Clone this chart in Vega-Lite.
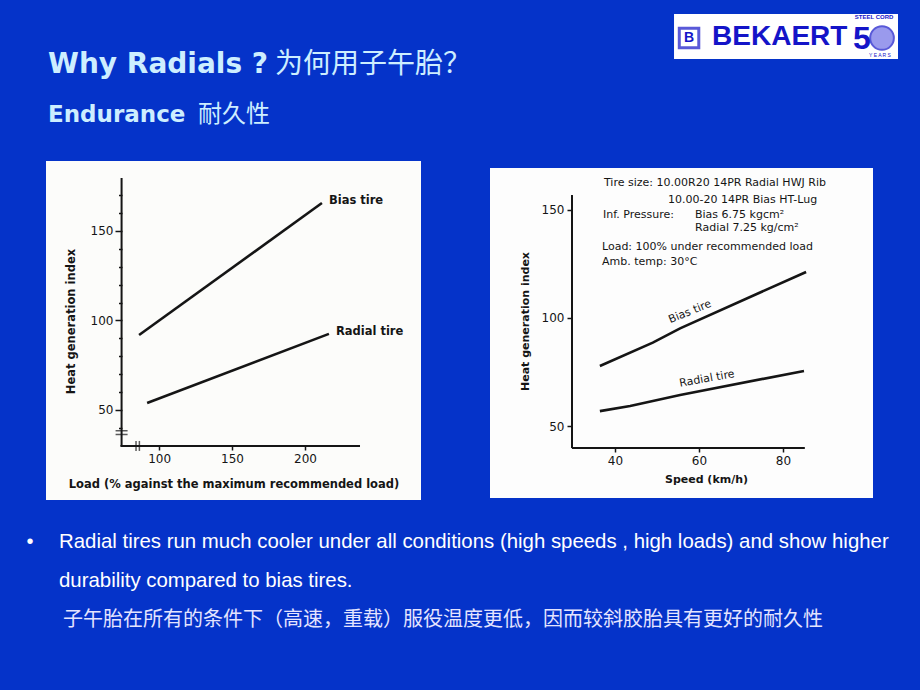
{
  "$schema": "https://vega.github.io/schema/vega-lite/v6.json",
  "background": "#0533c9",
  "padding": {"left": 20, "top": 14, "right": 0, "bottom": 0},
  "config": {"view": {"stroke": null}},
  "spacing": 10,
  "vconcat": [
    {
      "width": 878, "height": 137,
      "data": {"values": [{}]},
      "layer": [
        {"mark": {"type": "rect", "color": "white"},
         "encoding": {"x": {"datum": 74.49, "type": "quantitative", "scale": {"domain": [0, 100], "nice": false, "zero": false}, "axis": null}, "x2": {"datum": 100},
                      "y": {"datum": 67.15, "type": "quantitative", "scale": {"domain": [0, 100], "nice": false, "zero": false}, "axis": null}, "y2": {"datum": 100}}},
        {"mark": {"type": "text", "align": "left", "baseline": "alphabetic", "font": "DejaVu Sans", "fontWeight": "bold", "fontSize": 28, "color": "#cdeeff"},
         "encoding": {"x": {"datum": 3.19, "type": "quantitative"}, "y": {"datum": 56.93, "type": "quantitative"}, "text": {"value": "Why Radials ?"}}},
        {"mark": {"type": "text", "align": "left", "baseline": "alphabetic", "font": "Noto Sans CJK SC", "fontSize": 28, "color": "#cdeeff"},
         "encoding": {"x": {"datum": 29.04, "type": "quantitative"}, "y": {"datum": 56.93, "type": "quantitative"}, "text": {"value": "为何用子午胎？"}}},
        {"mark": {"type": "text", "align": "left", "baseline": "alphabetic", "font": "DejaVu Sans", "fontWeight": "bold", "fontSize": 23, "color": "#cdeeff"},
         "encoding": {"x": {"datum": 3.19, "type": "quantitative"}, "y": {"datum": 21.17, "type": "quantitative"}, "text": {"value": "Endurance"}}},
        {"mark": {"type": "text", "align": "left", "baseline": "alphabetic", "font": "Noto Sans CJK SC", "fontSize": 24, "color": "#cdeeff"},
         "encoding": {"x": {"datum": 20.27, "type": "quantitative"}, "y": {"datum": 21.17, "type": "quantitative"}, "text": {"value": "耐久性"}}},
        {"mark": {"type": "point", "shape": "square", "size": 380, "filled": false, "stroke": "#1414c8", "strokeWidth": 3},
         "encoding": {"x": {"datum": 76.2, "type": "quantitative"}, "y": {"datum": 82.5, "type": "quantitative"}}},
        {"mark": {"type": "text", "align": "center", "baseline": "middle", "font": "Liberation Sans", "fontWeight": "bold", "fontSize": 14, "color": "#1414c8"},
         "encoding": {"x": {"datum": 76.2, "type": "quantitative"}, "y": {"datum": 82.5, "type": "quantitative"}, "text": {"value": "B"}}},
        {"mark": {"type": "text", "align": "left", "baseline": "middle", "font": "Liberation Sans", "fontWeight": "bold", "fontSize": 28, "color": "#1414c8"},
         "encoding": {"x": {"datum": 78.82, "type": "quantitative"}, "y": {"datum": 83.2, "type": "quantitative"}, "text": {"value": "BEKAERT"}}},
        {"mark": {"type": "text", "align": "left", "baseline": "middle", "font": "Liberation Sans", "fontWeight": "bold", "fontSize": 32, "color": "#1414c8"},
         "encoding": {"x": {"datum": 94.87, "type": "quantitative"}, "y": {"datum": 81.5, "type": "quantitative"}, "text": {"value": "5"}}},
        {"mark": {"type": "point", "shape": "circle", "size": 560, "filled": true, "fill": "#7070e6", "stroke": "#1414c8", "strokeWidth": 2},
         "encoding": {"x": {"datum": 98.18, "type": "quantitative"}, "y": {"datum": 82.5, "type": "quantitative"}}},
        {"mark": {"type": "text", "align": "center", "baseline": "middle", "font": "Liberation Sans", "fontWeight": "bold", "fontSize": 6, "color": "#1414c8"},
         "encoding": {"x": {"datum": 97.27, "type": "quantitative"}, "y": {"datum": 97.5, "type": "quantitative"}, "text": {"value": "STEEL CORD"}}},
        {"mark": {"type": "text", "align": "center", "baseline": "middle", "font": "Liberation Sans", "fontSize": 5, "color": "#1414c8"},
         "encoding": {"x": {"datum": 97.95, "type": "quantitative"}, "y": {"datum": 70.1, "type": "quantitative"}, "text": {"value": "Y E A R S"}}}
      ]
    },
    {
      "spacing": 0,
      "hconcat": [
        {"width": 26, "height": 339, "data": {"values": [{}]}, "mark": {"type": "rect", "opacity": 0}},
        {
          "width": 375, "height": 339,
          "view": {"fill": "#fcfcfa", "stroke": null},
          "resolve": {"axis": {"y": "independent"}},
          "layer": [
            {
              "data": {"values": [
                {"tire": "Bias tire", "load": 86.3, "heat": 91.9},
                {"tire": "Bias tire", "load": 211.6, "heat": 165.6},
                {"tire": "Radial tire", "load": 91.8, "heat": 53.9},
                {"tire": "Radial tire", "load": 216.4, "heat": 92.5}
              ]},
              "layer": [
                {
                  "mark": {"type": "line", "color": "#151515", "strokeWidth": 2.6},
                  "encoding": {
                    "x": {"field": "load", "type": "quantitative", "scale": {"domain": [22.5, 279.5], "nice": false, "zero": false},
                          "axis": {"values": [100, 150, 200], "offset": -54, "domain": false, "grid": false, "tickSize": 4, "tickWidth": 1.5, "tickColor": "#151515",
                                   "labelFont": "DejaVu Sans", "labelFontSize": 12, "labelColor": "#151515", "labelPadding": 3,
                                   "title": "Load (% against the maximum recommended load)", "titleFont": "DejaVu Sans", "titleFontSize": 11.5, "titleFontWeight": "bold", "titleColor": "#151515", "titlePadding": 14}},
                    "y": {"field": "heat", "type": "quantitative", "scale": {"domain": [-0.3, 189.1], "nice": false, "zero": false},
                          "axis": {"orient": "left", "values": [50, 100, 150], "offset": -76, "domain": false, "grid": false,
                                   "tickSize": 7, "tickWidth": 1.5, "tickColor": "#151515",
                                   "labelFont": "DejaVu Sans", "labelFontSize": 12, "labelColor": "#151515", "labelPadding": 2,
                                   "title": "Heat generation index", "titleFont": "DejaVu Sans", "titleFontSize": 11.5, "titleFontWeight": "bold", "titleColor": "#151515",
                                   "titleAngle": 270, "titleAlign": "center", "titleBaseline": "middle", "titleX": -51, "titleY": 160}},
                    "detail": {"field": "tire", "type": "nominal"}
                  }
                },
                {
                  "transform": [{"filter": "datum.load > 200"}],
                  "mark": {"type": "text", "align": "left", "baseline": "middle", "dx": 7, "dy": -2, "font": "DejaVu Sans", "fontSize": 11.5, "fontWeight": "bold", "color": "#151515"},
                  "encoding": {"x": {"field": "load", "type": "quantitative"}, "y": {"field": "heat", "type": "quantitative"}, "text": {"field": "tire"}}
                }
              ]
            },
            {"data": {"values": [{}]}, "mark": {"type": "rule", "color": "#151515", "strokeWidth": 2},
             "encoding": {"x": {"datum": 74.3, "type": "quantitative"},
                          "y": {"datum": 29.9, "type": "quantitative",
                                "axis": {"orient": "left", "values": [40, 60, 70, 80, 90, 110, 120, 130, 140, 160, 170], "labels": false, "offset": -76, "domain": false, "grid": false,
                                         "tickSize": 3.5, "tickWidth": 1.5, "tickColor": "#151515", "title": null}},
                          "y2": {"datum": 179.6}}},
            {"data": {"values": [{}]}, "mark": {"type": "rule", "color": "#151515", "strokeWidth": 2},
             "encoding": {"x": {"datum": 73.5, "type": "quantitative"}, "x2": {"datum": 237.7}, "y": {"datum": 29.9, "type": "quantitative", "axis": null}}},
            {"data": {"values": [{}]}, "mark": {"type": "tick", "orient": "horizontal", "size": 12, "thickness": 1.5, "color": "#151515"},
             "encoding": {"x": {"datum": 74.3, "type": "quantitative"}, "y": {"datum": 38.4, "type": "quantitative", "axis": null}}},
            {"data": {"values": [{}]}, "mark": {"type": "tick", "orient": "horizontal", "size": 12, "thickness": 1.5, "color": "#151515"},
             "encoding": {"x": {"datum": 74.3, "type": "quantitative"}, "y": {"datum": 36.3, "type": "quantitative", "axis": null}}},
            {"data": {"values": [{}]}, "mark": {"type": "tick", "orient": "vertical", "size": 10, "thickness": 1.5, "color": "#151515"},
             "encoding": {"x": {"datum": 84.2, "type": "quantitative"}, "y": {"datum": 29.9, "type": "quantitative", "axis": null}}},
            {"data": {"values": [{}]}, "mark": {"type": "tick", "orient": "vertical", "size": 10, "thickness": 1.5, "color": "#151515"},
             "encoding": {"x": {"datum": 86.5, "type": "quantitative"}, "y": {"datum": 29.9, "type": "quantitative", "axis": null}}}
          ]
        },
        {"width": 69, "height": 339, "data": {"values": [{}]}, "mark": {"type": "rect", "opacity": 0}},
        {
          "spacing": 6,
          "vconcat": [
            {"width": 383, "height": 1, "data": {"values": [{}]}, "mark": {"type": "rect", "opacity": 0}},
            {
              "width": 383, "height": 330,
              "view": {"fill": "#fdfdfd", "stroke": null},
              "layer": [
                {
                  "data": {"values": [
                    {"tire": "Bias tire", "speed": 36.4, "heat": 77.8},
                    {"tire": "Bias tire", "speed": 49, "heat": 88.6},
                    {"tire": "Bias tire", "speed": 55.5, "heat": 95.2},
                    {"tire": "Bias tire", "speed": 85.5, "heat": 121.3},
                    {"tire": "Radial tire", "speed": 36.4, "heat": 56.9},
                    {"tire": "Radial tire", "speed": 43.6, "heat": 59.3},
                    {"tire": "Radial tire", "speed": 55.5, "heat": 64.4},
                    {"tire": "Radial tire", "speed": 85, "heat": 75.5}
                  ]},
                  "mark": {"type": "line", "color": "#151515", "strokeWidth": 2.6},
                  "encoding": {
                    "x": {"field": "speed", "type": "quantitative", "scale": {"domain": [10.24, 101.43], "nice": false, "zero": false},
                          "axis": {"values": [40, 60, 80], "offset": -50, "domain": false, "grid": false, "tickSize": 4, "tickWidth": 1.5, "tickColor": "#151515",
                                   "labelFont": "DejaVu Sans", "labelFontSize": 12, "labelColor": "#151515", "labelPadding": 3,
                                   "title": "Speed (km/h)", "titleFont": "DejaVu Sans", "titleFontSize": 11, "titleFontWeight": "bold", "titleColor": "#151515",
                                   "titleAlign": "center", "titleBaseline": "middle", "titleX": 216, "titleY": 31}},
                    "y": {"field": "heat", "type": "quantitative", "scale": {"domain": [16.7, 169.4], "nice": false, "zero": false},
                          "axis": {"values": [50, 100, 150], "offset": -82, "domain": false, "grid": false, "tickSize": 5, "tickWidth": 1.5, "tickColor": "#151515",
                                   "labelFont": "DejaVu Sans", "labelFontSize": 12, "labelColor": "#151515", "labelPadding": 3,
                                   "title": "Heat generation index", "titleFont": "DejaVu Sans", "titleFontSize": 11, "titleFontWeight": "bold", "titleColor": "#151515",
                                   "titleAngle": 270, "titleAlign": "center", "titleBaseline": "middle", "titleX": -47, "titleY": 153}},
                    "detail": {"field": "tire", "type": "nominal"}
                  }
                },
                {"data": {"values": [{}]}, "mark": {"type": "rule", "color": "#151515", "strokeWidth": 2},
                 "encoding": {"x": {"datum": 29.76, "type": "quantitative"}, "y": {"datum": 39.8, "type": "quantitative"}, "y2": {"datum": 156.9}}},
                {"data": {"values": [{}]}, "mark": {"type": "rule", "color": "#151515", "strokeWidth": 2},
                 "encoding": {"x": {"datum": 29.76, "type": "quantitative"}, "x2": {"datum": 85.2}, "y": {"datum": 39.8, "type": "quantitative"}}},
                {"data": {"values": [{}]}, "mark": {"type": "text", "align": "left", "baseline": "middle", "font": "DejaVu Sans", "fontSize": 11, "color": "#151515"},
                 "encoding": {"x": {"datum": 37.38, "type": "quantitative"}, "y": {"datum": 162.5, "type": "quantitative"}, "text": {"value": "Tire size: 10.00R20 14PR Radial HWJ Rib"}}},
                {"data": {"values": [{}]}, "mark": {"type": "text", "align": "left", "baseline": "middle", "font": "DejaVu Sans", "fontSize": 11, "color": "#151515"},
                 "encoding": {"x": {"datum": 52.62, "type": "quantitative"}, "y": {"datum": 154.6, "type": "quantitative"}, "text": {"value": "10.00-20 14PR Bias HT-Lug"}}},
                {"data": {"values": [{}]}, "mark": {"type": "text", "align": "left", "baseline": "middle", "font": "DejaVu Sans", "fontSize": 11, "color": "#151515"},
                 "encoding": {"x": {"datum": 37.14, "type": "quantitative"}, "y": {"datum": 147.7, "type": "quantitative"}, "text": {"value": "Inf. Pressure:"}}},
                {"data": {"values": [{}]}, "mark": {"type": "text", "align": "left", "baseline": "middle", "font": "DejaVu Sans", "fontSize": 11, "color": "#151515"},
                 "encoding": {"x": {"datum": 59.05, "type": "quantitative"}, "y": {"datum": 147.7, "type": "quantitative"}, "text": {"value": "Bias 6.75 kgcm²"}}},
                {"data": {"values": [{}]}, "mark": {"type": "text", "align": "left", "baseline": "middle", "font": "DejaVu Sans", "fontSize": 11, "color": "#151515"},
                 "encoding": {"x": {"datum": 59.05, "type": "quantitative"}, "y": {"datum": 141.7, "type": "quantitative"}, "text": {"value": "Radial 7.25 kg/cm²"}}},
                {"data": {"values": [{}]}, "mark": {"type": "text", "align": "left", "baseline": "middle", "font": "DejaVu Sans", "fontSize": 11, "color": "#151515"},
                 "encoding": {"x": {"datum": 36.9, "type": "quantitative"}, "y": {"datum": 132.9, "type": "quantitative"}, "text": {"value": "Load:  100% under recommended load"}}},
                {"data": {"values": [{}]}, "mark": {"type": "text", "align": "left", "baseline": "middle", "font": "DejaVu Sans", "fontSize": 11, "color": "#151515"},
                 "encoding": {"x": {"datum": 36.9, "type": "quantitative"}, "y": {"datum": 125.9, "type": "quantitative"}, "text": {"value": "Amb. temp:  30°C"}}},
                {"data": {"values": [{}]}, "mark": {"type": "text", "align": "center", "baseline": "middle", "angle": 338, "font": "DejaVu Sans", "fontSize": 11, "color": "#151515"},
                 "encoding": {"x": {"datum": 57.86, "type": "quantitative"}, "y": {"datum": 102.8, "type": "quantitative"}, "text": {"value": "Bias tire"}}},
                {"data": {"values": [{}]}, "mark": {"type": "text", "align": "center", "baseline": "middle", "angle": 350, "font": "DejaVu Sans", "fontSize": 11, "color": "#151515"},
                 "encoding": {"x": {"datum": 61.9, "type": "quantitative"}, "y": {"datum": 71.8, "type": "quantitative"}, "text": {"value": "Radial tire"}}}
              ]
            }
          ]
        }
      ]
    },
    {
      "width": 900, "height": 180,
      "data": {"values": [
        {"line": 1, "text": "Radial tires run much cooler under all conditions (high speeds , high loads) and show higher"},
        {"line": 2, "text": "durability compared to bias tires."},
        {"line": 3, "text": "子午胎在所有的条件下（高速，重载）服役温度更低，因而较斜胶胎具有更好的耐久性"}
      ]},
      "encoding": {"y": {"field": "line", "type": "quantitative", "scale": {"domain": [0.179, 4.794], "reverse": true, "nice": false, "zero": false}, "axis": null}},
      "layer": [
        {"transform": [{"filter": "datum.line <= 2"}],
         "mark": {"type": "text", "align": "left", "baseline": "middle", "font": "Liberation Sans", "fontSize": 20.4, "color": "white"},
         "encoding": {"x": {"datum": 0, "type": "quantitative", "scale": {"domain": [-1, 22.08], "nice": false, "zero": false}, "axis": null}, "text": {"field": "text"}}},
        {"transform": [{"filter": "datum.line == 3"}],
         "mark": {"type": "text", "align": "left", "baseline": "middle", "font": "Noto Sans CJK SC", "fontSize": 20, "color": "#e4e4ff"},
         "encoding": {"x": {"datum": 0.1, "type": "quantitative"}, "text": {"field": "text"}}},
        {"transform": [{"filter": "datum.line == 1"}],
         "mark": {"type": "text", "align": "center", "baseline": "middle", "font": "Liberation Sans", "fontSize": 20, "color": "white"},
         "encoding": {"x": {"datum": -0.744, "type": "quantitative"}, "text": {"value": "•"}}}
      ]
    }
  ]
}
